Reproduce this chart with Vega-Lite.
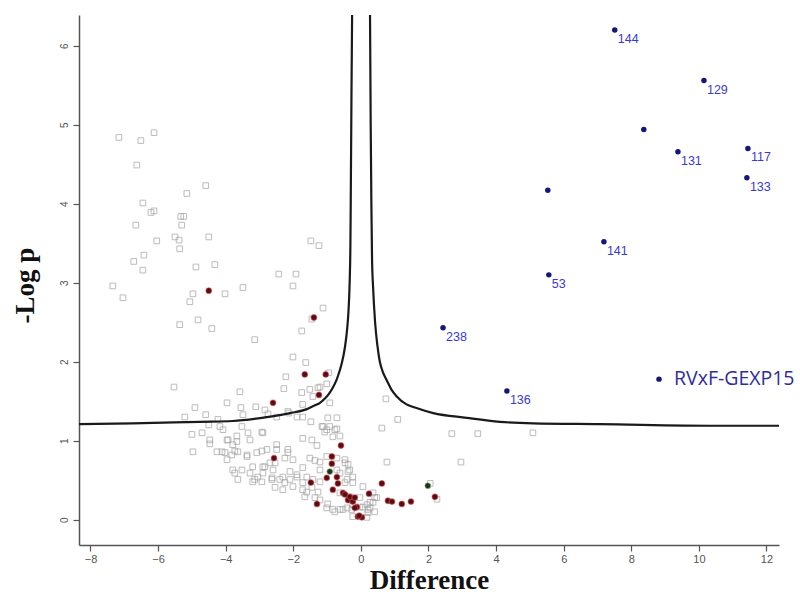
{
  "$schema": "https://vega.github.io/schema/vega-lite/v6.json",
  "width": 700,
  "height": 530,
  "autosize": {"type": "none"},
  "padding": {"left": 79, "top": 15, "right": 21, "bottom": 51},
  "background": "white",
  "config": {
    "view": {"stroke": null},
    "axis": {"grid": false, "domainColor": "#555", "domainWidth": 1.5, "tickColor": "#555", "tickWidth": 1.2, "tickSize": 6, "labelColor": "#555", "labelFont": "Liberation Sans", "labelFontSize": 11, "titleFont": "Liberation Serif", "titleFontWeight": "bold", "titleColor": "#111"}
  },
  "datasets": {
    "gray": [
      {"d":-7.16,"p":4.84},{"d":-6.51,"p":4.80},{"d":-6.12,"p":4.90},{"d":-6.63,"p":4.49},{"d":-4.59,"p":4.23},{"d":-5.15,"p":4.13},{"d":-6.45,"p":4.01},{"d":-6.12,"p":3.91},{"d":-6.21,"p":3.89},{"d":-5.33,"p":3.84},{"d":-5.24,"p":3.84},{"d":-6.66,"p":3.73},{"d":-5.30,"p":3.73},{"d":-6.04,"p":3.53},{"d":-5.50,"p":3.58},{"d":-5.38,"p":3.54},{"d":-4.50,"p":3.58},{"d":-5.36,"p":3.43},{"d":-6.42,"p":3.35},{"d":-6.72,"p":3.27},{"d":-6.45,"p":3.16},{"d":-4.88,"p":3.20},{"d":-4.32,"p":3.23},{"d":-1.48,"p":3.53},{"d":-1.24,"p":3.47},{"d":-2.43,"p":3.11},{"d":-1.92,"p":3.11},{"d":-2.01,"p":2.96},{"d":-3.49,"p":2.94},{"d":-7.34,"p":2.96},{"d":-7.04,"p":2.81},{"d":-4.97,"p":2.86},{"d":-5.06,"p":2.76},{"d":-4.02,"p":2.86},{"d":-1.12,"p":2.68},{"d":-1.45,"p":2.54},{"d":-1.75,"p":2.39},{"d":-5.36,"p":2.47},{"d":-4.82,"p":2.53},{"d":-4.41,"p":2.42},{"d":-3.14,"p":2.28},{"d":-5.53,"p":1.68},{"d":-2.01,"p":2.06},{"d":-1.63,"p":1.99},{"d":-2.22,"p":1.81},{"d":-0.95,"p":1.86},{"d":-2.28,"p":1.66},{"d":-3.58,"p":1.62},{"d":-1.75,"p":1.61},{"d":-1.51,"p":1.65},{"d":-1.27,"p":1.67},{"d":-1.01,"p":1.72},{"d":-1.42,"p":1.56},{"d":-3.96,"p":1.48},{"d":-4.91,"p":1.42},{"d":-3.11,"p":1.43},{"d":-3.55,"p":1.42},{"d":-2.84,"p":1.39},{"d":-5.21,"p":1.30},{"d":-4.59,"p":1.33},{"d":-4.23,"p":1.27},{"d":-3.49,"p":1.33},{"d":-2.75,"p":1.34},{"d":-2.49,"p":1.30},{"d":-2.13,"p":1.35},{"d":-1.72,"p":1.30},{"d":-1.48,"p":1.24},{"d":-0.98,"p":1.29},{"d":-0.71,"p":1.29},{"d":-0.92,"p":1.18},{"d":-1.15,"p":1.18},{"d":-1.07,"p":1.11},{"d":-0.77,"p":1.14},{"d":-0.62,"p":1.06},{"d":-5.00,"p":1.08},{"d":-4.70,"p":1.10},{"d":-4.47,"p":1.01},{"d":-4.17,"p":1.18},{"d":-3.96,"p":1.01},{"d":-3.67,"p":1.06},{"d":-3.34,"p":1.10},{"d":-2.90,"p":1.10},{"d":-3.28,"p":1.01},{"d":-4.47,"p":0.96},{"d":-3.79,"p":0.95},{"d":-1.72,"p":1.03},{"d":-1.45,"p":1.01},{"d":-1.30,"p":0.94},{"d":-4.97,"p":0.86},{"d":-4.26,"p":0.86},{"d":-4.02,"p":0.85},{"d":-3.64,"p":0.86},{"d":-3.08,"p":0.85},{"d":-2.78,"p":0.89},{"d":-2.49,"p":0.95},{"d":-2.16,"p":0.85},{"d":-3.96,"p":0.76},{"d":-3.37,"p":0.80},{"d":-2.25,"p":0.78},{"d":-2.01,"p":0.76},{"d":-1.51,"p":0.78},{"d":-1.36,"p":0.75},{"d":-0.47,"p":0.76},{"d":-0.38,"p":0.70},{"d":0.77,"p":0.73},{"d":-3.79,"p":0.63},{"d":-3.52,"p":0.63},{"d":-3.20,"p":0.67},{"d":-2.84,"p":0.67},{"d":-2.60,"p":0.63},{"d":-2.10,"p":0.61},{"d":-1.72,"p":0.66},{"d":-1.21,"p":0.63},{"d":-0.71,"p":0.63},{"d":-0.38,"p":0.61},{"d":-3.64,"p":0.51},{"d":-3.28,"p":0.59},{"d":-3.14,"p":0.51},{"d":-2.90,"p":0.59},{"d":-2.63,"p":0.53},{"d":-2.40,"p":0.51},{"d":-2.10,"p":0.51},{"d":-1.89,"p":0.54},{"d":-1.60,"p":0.54},{"d":-1.21,"p":0.48},{"d":-0.41,"p":0.51},{"d":-0.24,"p":0.54},{"d":-2.54,"p":0.41},{"d":-2.31,"p":0.38},{"d":-2.25,"p":0.47},{"d":-2.01,"p":0.42},{"d":-1.72,"p":0.38},{"d":-1.45,"p":0.41},{"d":-1.27,"p":0.35},{"d":-0.62,"p":0.34},{"d":-0.33,"p":0.29},{"d":-0.03,"p":0.28},{"d":0.41,"p":0.28},{"d":-1.66,"p":0.29},{"d":-1.36,"p":0.28},{"d":-0.98,"p":0.20},{"d":-0.83,"p":0.13},{"d":-0.62,"p":0.13},{"d":-0.41,"p":0.15},{"d":-0.24,"p":0.19},{"d":0.06,"p":0.16},{"d":0.27,"p":0.22},{"d":0.41,"p":0.10},{"d":-0.24,"p":0.04},{"d":0.18,"p":0.03},{"d":0.74,"p":1.53},{"d":1.09,"p":1.27},{"d":0.62,"p":1.16},{"d":2.69,"p":1.09},{"d":3.46,"p":1.09},{"d":5.09,"p":1.10},{"d":2.96,"p":0.73},{"d":0.47,"p":0.28},{"d":0.36,"p":0.22},{"d":0.27,"p":0.15},{"d":0.21,"p":0.09},{"d":-4.50,"p":1.20},{"d":-4.08,"p":1.14},{"d":-3.52,"p":1.18},{"d":-2.93,"p":1.11},{"d":-3.93,"p":1.01},{"d":-3.67,"p":0.99},{"d":-4.11,"p":0.86},{"d":-3.73,"p":0.87},{"d":-2.93,"p":0.87},{"d":-1.21,"p":1.68},{"d":-0.92,"p":1.48},{"d":-1.72,"p":1.46},{"d":-2.16,"p":1.37},{"d":-1.89,"p":1.30},{"d":-1.12,"p":1.18},{"d":-1.01,"p":1.14},{"d":-0.71,"p":1.15},{"d":-0.83,"p":1.05},{"d":-2.49,"p":0.89},{"d":-2.16,"p":0.89},{"d":-3.82,"p":0.82},{"d":-3.37,"p":0.82},{"d":-3.73,"p":0.59},{"d":-3.20,"p":0.48},{"d":-3.05,"p":0.54},{"d":-2.93,"p":0.48},{"d":-2.90,"p":0.67},{"d":-2.69,"p":0.72},{"d":-2.63,"p":0.51},{"d":-2.54,"p":0.72},{"d":-2.31,"p":0.54},{"d":-1.89,"p":0.57},{"d":-1.72,"p":0.47},{"d":-1.42,"p":0.51},{"d":-1.60,"p":0.35},{"d":-1.21,"p":0.25},{"d":-1.01,"p":0.15},{"d":-0.77,"p":0.10},{"d":-0.53,"p":0.13},{"d":-0.27,"p":0.13},{"d":-0.03,"p":0.16},{"d":0.18,"p":0.19},{"d":-1.21,"p":0.73},{"d":-1.01,"p":0.80},{"d":-0.71,"p":0.78},{"d":-0.47,"p":0.72},{"d":-0.62,"p":0.59},{"d":-0.33,"p":0.63},{"d":-0.47,"p":0.47},{"d":-0.24,"p":0.47},{"d":0.06,"p":0.42},{"d":0.36,"p":0.34},{"d":-0.33,"p":0.25},{"d":0.21,"p":0.13},{"d":2.05,"p":0.46},{"d":2.25,"p":0.26}
    ],
    "red": [
      {"d":-4.50,"p":2.90},{"d":-1.39,"p":2.56},{"d":-1.66,"p":1.84},{"d":-1.04,"p":1.84},{"d":-1.24,"p":1.58},{"d":-2.60,"p":1.48},{"d":-0.59,"p":0.94},{"d":-2.57,"p":0.78},{"d":-0.86,"p":0.80},{"d":-0.86,"p":0.71},{"d":-1.01,"p":0.53},{"d":-0.71,"p":0.54},{"d":-1.48,"p":0.47},{"d":-0.68,"p":0.46},{"d":-0.83,"p":0.38},{"d":-0.53,"p":0.34},{"d":0.24,"p":0.33},{"d":0.62,"p":0.46},{"d":-1.30,"p":0.20},{"d":-0.38,"p":0.25},{"d":-0.24,"p":0.23},{"d":-0.12,"p":0.16},{"d":-0.09,"p":0.04},{"d":0.03,"p":0.03},{"d":0.80,"p":0.24},{"d":0.92,"p":0.23},{"d":1.21,"p":0.20},{"d":1.48,"p":0.23},{"d":2.19,"p":0.29},{"d":-0.33,"p":0.29},{"d":-0.18,"p":0.28},{"d":-0.18,"p":0.15},{"d":-0.47,"p":0.32},{"d":-0.05,"p":0.05}
    ],
    "green": [
      {"d":1.98,"p":0.43},{"d":-0.92,"p":0.61}
    ],
    "blue": [
      {"d":7.51,"p":6.20,"label":"144"},{"d":10.15,"p":5.56,"label":"129"},{"d":8.37,"p":4.94,"label":""},{"d":9.38,"p":4.66,"label":"131"},{"d":11.45,"p":4.70,"label":"117"},{"d":11.42,"p":4.33,"label":"133"},{"d":5.53,"p":4.17,"label":""},{"d":7.19,"p":3.52,"label":"141"},{"d":5.56,"p":3.10,"label":"53"},{"d":2.43,"p":2.43,"label":"238"},{"d":4.32,"p":1.63,"label":"136"}
    ],
    "gexp": [
      {"d":8.82,"p":1.78,"label":"RVxF-GEXP15"}
    ],
    "curve": [
      {"d":-8.34,"p":1.21,"b":"L"},{"d":-6.75,"p":1.22,"b":"L"},{"d":-4.76,"p":1.24,"b":"L"},{"d":-3.79,"p":1.25,"b":"L"},{"d":-2.78,"p":1.30,"b":"L"},{"d":-2.10,"p":1.35,"b":"L"},{"d":-1.60,"p":1.40,"b":"L"},{"d":-1.40,"p":1.44,"b":"L"},{"d":-1.21,"p":1.48,"b":"L"},{"d":-1.05,"p":1.54,"b":"L"},{"d":-0.92,"p":1.61,"b":"L"},{"d":-0.82,"p":1.68,"b":"L"},{"d":-0.72,"p":1.77,"b":"L"},{"d":-0.64,"p":1.87,"b":"L"},{"d":-0.56,"p":1.99,"b":"L"},{"d":-0.47,"p":2.19,"b":"L"},{"d":-0.41,"p":2.40,"b":"L"},{"d":-0.37,"p":2.62,"b":"L"},{"d":-0.33,"p":3.04,"b":"L"},{"d":-0.31,"p":3.50,"b":"L"},{"d":-0.30,"p":4.05,"b":"L"},{"d":-0.28,"p":5.30,"b":"L"},{"d":-0.26,"p":6.39,"b":"L"},
      {"d":0.27,"p":6.39,"b":"R"},{"d":0.29,"p":5.00,"b":"R"},{"d":0.31,"p":4.00,"b":"R"},{"d":0.33,"p":3.30,"b":"R"},{"d":0.36,"p":2.95,"b":"R"},{"d":0.42,"p":2.50,"b":"R"},{"d":0.49,"p":2.20,"b":"R"},{"d":0.56,"p":2.00,"b":"R"},{"d":0.65,"p":1.87,"b":"R"},{"d":0.76,"p":1.77,"b":"R"},{"d":0.90,"p":1.65,"b":"R"},{"d":1.06,"p":1.56,"b":"R"},{"d":1.35,"p":1.46,"b":"R"},{"d":1.60,"p":1.42,"b":"R"},{"d":2.14,"p":1.35,"b":"R"},{"d":3.13,"p":1.29,"b":"R"},{"d":4.11,"p":1.24,"b":"R"},{"d":5.10,"p":1.22,"b":"R"},{"d":7.07,"p":1.21,"b":"R"},{"d":10.50,"p":1.19,"b":"R"},{"d":12.37,"p":1.19,"b":"R"}
    ]
  },
  "encoding": {
    "x": {"field": "d", "type": "quantitative", "scale": {"domain": [-8.34, 12.37], "nice": false, "zero": false}, "axis": {"title": "Difference", "values": [-8,-6,-4,-2,0,2,4,6,8,10,12], "labelPadding": 2, "titlePadding": 3, "titleFontSize": 27}},
    "y": {"field": "p", "type": "quantitative", "scale": {"domain": [-0.32, 6.39], "nice": false, "zero": false}, "axis": {"title": "-Log p", "values": [0,1,2,3,4,5,6], "labelAngle": -90, "labelPadding": 4, "titlePadding": 20, "titleFontSize": 27, "titleY": 270, "labelFontSize": 10}}
  },
  "layer": [
    {"data": {"name": "gray"}, "mark": {"type": "point", "shape": "square", "filled": false, "size": 32, "stroke": "#a0a0a0", "strokeWidth": 1}},
    {"data": {"name": "curve"}, "mark": {"type": "line", "color": "#1a1a1a", "strokeWidth": 2.2, "interpolate": "monotone"}, "encoding": {"detail": {"field": "b"}}},
    {"data": {"name": "red"}, "mark": {"type": "circle", "size": 34, "fill": "#5a0c14", "fillOpacity": 1, "stroke": "#d9534f", "strokeOpacity": 0.5, "strokeWidth": 1.2}},
    {"data": {"name": "green"}, "mark": {"type": "circle", "size": 34, "fill": "#1f3320", "fillOpacity": 1, "stroke": "#7fbf7f", "strokeOpacity": 0.6, "strokeWidth": 1}},
    {"data": {"name": "blue"}, "mark": {"type": "circle", "size": 30, "fill": "#16167a", "fillOpacity": 1}},
    {"data": {"name": "blue"}, "mark": {"type": "text", "align": "left", "baseline": "middle", "dx": 3, "dy": 9, "font": "Liberation Sans", "fontSize": 12.5, "color": "#3a3ad0"}, "encoding": {"text": {"field": "label"}}},
    {"data": {"name": "gexp"}, "mark": {"type": "circle", "size": 30, "fill": "#16167a", "fillOpacity": 1}},
    {"data": {"name": "gexp"}, "mark": {"type": "text", "align": "left", "baseline": "middle", "dx": 15, "dy": 0, "font": "Open Sans", "fontSize": 19.5, "color": "#2e2e9a"}, "encoding": {"text": {"field": "label"}}}
  ]
}
